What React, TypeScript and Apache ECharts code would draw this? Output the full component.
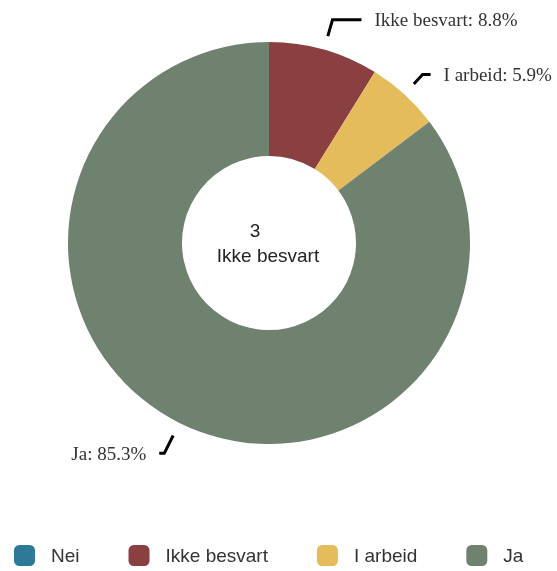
import React, { useEffect, useRef } from "react";
import * as echarts from "echarts";

const categories = ["Nei", "Ikke besvart", "I arbeid", "Ja"];
const values = [0, 3, 2, 29];
const colors = ["#2e7898", "#8a3f40", "#e4bc5c", "#6e826f"];
const lineLen = [16, 17, 13, 20];
const lineLen2 = [10, 29, 8, 5];
const centerNumber = "3";
const centerLabel = "Ikke besvart";

export default function App() {
  const ref = useRef<HTMLDivElement>(null);
  useEffect(() => {
    if (!ref.current) return;
    const chart = echarts.init(ref.current, undefined, { renderer: "svg" });
    const mainData = categories.map((name, i) => ({
      name,
      value: values[i],
      itemStyle: { color: colors[i] },
    }));
    const labelData = categories.map((name, i) => ({
      name,
      value: values[i],
      itemStyle: { color: "rgba(0,0,0,0)" },
      label: { show: values[i] > 0 },
      labelLine: { show: values[i] > 0, length: lineLen[i], length2: lineLen2[i] },
    }));
    chart.setOption({
      animation: false,
      legend: {
        data: categories,
        orient: "horizontal",
        left: 9,
        top: 540,
        itemWidth: 21,
        itemHeight: 21,
        itemGap: 49,
        icon: "roundRect",
        textStyle: {
          fontFamily: "Liberation Sans",
          fontSize: 19,
          color: "#333",
          padding: [0, 0, 0, 11],
        },
      },
      graphic: [
        {
          type: "text",
          x: 255,
          y: 230,
          style: {
            text: centerNumber,
            font: "19px 'Liberation Sans'",
            fill: "#222",
            textAlign: "center",
            textVerticalAlign: "middle",
          },
        },
        {
          type: "text",
          x: 268,
          y: 255,
          style: {
            text: centerLabel,
            font: "19px 'Liberation Sans'",
            fill: "#222",
            textAlign: "center",
            textVerticalAlign: "middle",
          },
        },
      ],
      series: [
        {
          type: "pie",
          center: [269, 243],
          radius: [87, 201],
          startAngle: 90,
          avoidLabelOverlap: false,
          label: { show: false },
          labelLine: { show: false },
          emphasis: { disabled: true },
          data: mainData,
        },
        {
          type: "pie",
          center: [269, 243],
          radius: [214, 215],
          startAngle: 90,
          avoidLabelOverlap: false,
          percentPrecision: 1,
          silent: true,
          legendHoverLink: false,
          emphasis: { disabled: true },
          label: {
            position: "outside",
            formatter: "{b}: {d}%",
            fontFamily: "Liberation Serif",
            fontSize: 19,
            color: "#333",
            distanceToLabelLine: 13,
          },
          labelLine: {
            lineStyle: { color: "#000", width: 3, opacity: 1 },
          },
          data: labelData,
        },
      ],
    });
    return () => chart.dispose();
  }, []);
  return (
    <div
      ref={ref}
      style={{ position: "fixed", left: 0, top: 0, width: 557, height: 571 }}
    />
  );
}
